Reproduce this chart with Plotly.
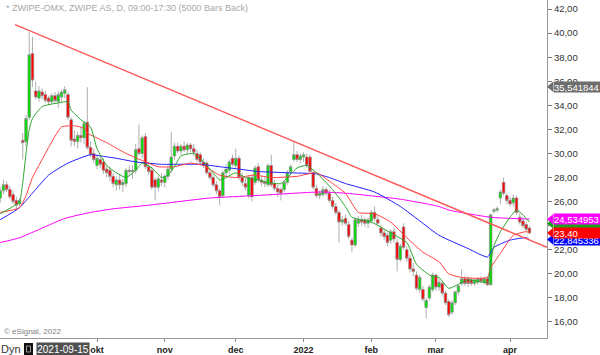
import numpy as np
import pandas as pd
import plotly.graph_objects as go

# ---------------- data ----------------
dates = [d for d in pd.bdate_range("2021-08-20", "2022-04-11")
         if d.strftime("%m-%d") not in ("12-24", "12-31")]

opens = [26.3, 26.9, 27.4, 27.0, 26.6, 26.1, 25.8, 31.1, 31.0, 33.0,
         38.3, 35.2, 34.6, 35.1, 34.9, 34.6, 34.3, 34.8, 34.3, 34.7,
         35.0, 34.9, 32.8, 31.2, 31.0, 31.5, 31.3, 32.6, 30.5, 30.0,
         29.0, 29.5, 29.3, 28.7, 28.6, 28.1, 27.4, 27.8, 27.4, 27.5,
         28.6, 28.5, 28.6, 30.4, 30.0, 31.4, 28.9, 28.6, 27.8, 27.2,
         27.8, 27.6, 28.1, 28.7, 29.8, 30.6, 30.2, 30.6, 30.3, 30.7,
         30.4, 30.0, 29.9, 29.3, 29.2, 28.4, 28.0, 27.4, 26.9, 26.5,
         28.4, 28.6, 29.6, 29.0, 29.6, 28.0, 27.5, 26.5, 28.0, 27.6,
         28.9, 27.8, 27.6, 27.4, 29.0, 27.5, 27.1, 27.0, 27.0, 27.6,
         28.5, 29.5, 29.9, 29.5, 29.7, 29.7, 29.7, 28.4, 27.1, 26.5,
         26.6, 27.0, 26.7, 26.1, 25.6, 25.1, 24.3, 24.6, 24.1, 22.8,
         22.4, 24.2, 24.5, 24.5, 24.2, 24.4, 25.1, 24.5, 23.8, 23.4,
         23.2, 22.8, 23.5, 22.6, 21.2, 23.9, 22.0, 21.3, 20.4, 19.9,
         18.7, 18.7, 17.2, 18.0, 18.7, 19.9, 18.9, 19.2, 18.4, 17.7,
         16.8, 17.6, 18.5, 19.2, 19.6, 19.6, 19.5, 19.2, 19.3, 19.6,
         19.3, 19.6, 19.1, 25.2, 25.3, 26.3, 27.6, 26.5, 26.1, 25.9,
         26.3, 24.7, 24.4, 24.1, 23.8]
highs = [27.2, 27.8, 27.7, 27.3, 26.9, 26.4, 26.3, 31.7, 33.2, 40.1,
         39.7, 36.0, 35.6, 35.4, 35.2, 34.8, 35.0, 35.1, 35.2, 35.3,
         35.6, 35.1, 33.0, 31.9, 31.8, 32.2, 32.7, 35.5, 31.0, 30.4,
         29.9, 29.8, 29.6, 29.0, 28.9, 28.4, 28.1, 28.2, 27.9, 28.8,
         29.0, 29.0, 30.8, 32.4, 31.5, 31.7, 29.3, 28.9, 28.0, 28.1,
         28.4, 28.3, 29.0, 31.8, 30.9, 30.9, 30.8, 31.0, 30.9, 30.9,
         30.8, 30.3, 30.1, 29.6, 29.4, 28.6, 28.3, 27.7, 27.1, 28.6,
         29.1, 29.5, 29.9, 30.4, 29.8, 28.4, 27.9, 28.2, 28.3, 29.0,
         29.2, 28.1, 28.0, 29.2, 29.9, 27.8, 27.4, 27.2, 27.8, 28.6,
         29.1, 31.0, 30.2, 30.0, 30.1, 30.0, 29.9, 28.6, 27.4, 26.9,
         27.3, 27.2, 27.0, 26.4, 25.9, 25.3, 24.8, 24.9, 24.4, 23.0,
         24.7, 24.8, 24.9, 24.7, 24.7, 25.3, 25.6, 24.8, 24.1, 23.7,
         23.4, 23.7, 23.8, 22.9, 22.5, 24.2, 22.3, 21.6, 20.9, 20.2,
         19.9, 19.0, 18.0, 19.1, 20.1, 20.0, 19.6, 19.4, 18.6, 17.9,
         17.8, 18.6, 19.1, 20.4, 19.8, 19.8, 19.7, 19.6, 19.7, 19.8,
         19.8, 19.8, 25.0, 25.5, 25.6, 27.0, 28.0, 26.7, 26.4, 26.6,
         26.5, 25.0, 24.7, 24.3, 24.0]
lows = [25.9, 26.6, 26.8, 26.2, 25.8, 25.3, 25.6, 29.5, 30.6, 32.8,
        35.5, 34.5, 34.3, 34.5, 34.2, 34.0, 34.1, 34.2, 33.8, 34.3,
        34.6, 32.8, 30.6, 30.6, 30.4, 30.9, 30.8, 30.3, 29.7, 29.2,
        28.7, 28.8, 28.3, 28.0, 27.7, 27.2, 26.9, 27.0, 26.8, 27.2,
        28.1, 27.9, 28.3, 29.8, 29.6, 28.7, 28.2, 27.0, 26.1, 26.9,
        27.3, 27.2, 27.8, 28.4, 29.5, 30.0, 29.9, 30.1, 30.0, 30.1,
        29.8, 29.3, 29.0, 28.8, 28.2, 27.8, 27.2, 26.6, 25.7, 26.3,
        28.1, 28.3, 28.9, 28.8, 27.8, 27.3, 26.9, 26.3, 26.0, 27.4,
        27.6, 27.3, 27.2, 27.2, 27.2, 26.9, 26.4, 26.1, 26.8, 27.4,
        28.3, 29.3, 29.3, 29.2, 29.3, 28.8, 28.3, 27.0, 26.3, 26.2,
        26.4, 26.5, 25.9, 25.4, 24.9, 22.6, 24.0, 24.0, 22.9, 21.8,
        22.2, 23.9, 24.0, 23.9, 23.8, 24.2, 24.4, 24.0, 23.1, 22.8,
        22.3, 22.5, 22.6, 20.2, 21.0, 22.0, 21.0, 20.1, 19.8, 18.6,
        18.4, 17.7, 16.3, 17.8, 18.5, 18.6, 18.6, 18.2, 17.4, 16.4,
        16.6, 17.4, 18.2, 19.0, 19.0, 18.9, 19.0, 19.0, 19.1, 19.2,
        19.1, 19.0, 19.0, 25.0, 25.1, 25.8, 26.5, 25.8, 25.6, 25.6,
        24.9, 24.1, 23.8, 23.5, 23.3]
closes = [26.9, 27.4, 27.0, 26.4, 26.0, 25.7, 26.1, 30.9, 32.9, 38.2,
          36.1, 34.7, 35.2, 34.8, 34.4, 34.3, 34.8, 34.4, 34.9, 35.1,
          35.3, 33.0, 31.1, 31.0, 31.5, 31.3, 32.5, 30.5, 29.9, 29.5,
          29.6, 29.1, 28.6, 28.4, 28.1, 27.5, 27.8, 27.4, 27.6, 28.6,
          28.5, 28.6, 30.3, 30.0, 31.3, 28.9, 28.5, 27.2, 27.2, 27.9,
          27.6, 28.1, 28.7, 29.7, 30.6, 30.2, 30.6, 30.3, 30.7, 30.4,
          30.1, 29.5, 29.3, 29.0, 28.4, 28.0, 27.4, 26.9, 26.4, 28.4,
          28.7, 29.3, 29.1, 29.6, 28.0, 27.6, 27.2, 28.0, 26.4, 28.8,
          27.8, 27.6, 27.5, 29.0, 27.4, 27.1, 26.8, 26.7, 27.6, 28.4,
          28.9, 29.9, 29.5, 29.8, 29.9, 29.0, 28.5, 27.2, 26.5, 26.7,
          27.0, 26.7, 26.1, 25.6, 25.1, 24.3, 24.5, 24.2, 23.1, 22.4,
          24.5, 24.5, 24.3, 24.2, 24.5, 25.1, 24.6, 24.2, 23.4, 23.1,
          22.6, 23.5, 22.9, 21.2, 22.3, 22.2, 21.3, 20.4, 20.2, 18.8,
          19.7, 17.9, 17.8, 18.9, 19.9, 18.9, 19.3, 18.4, 17.6, 16.6,
          17.6, 18.5, 19.0, 19.6, 19.2, 19.2, 19.2, 19.5, 19.6, 19.4,
          19.6, 19.1, 24.9, 25.3, 25.4, 26.8, 26.7, 26.1, 25.8, 26.3,
          25.1, 24.3, 24.0, 23.7, 23.4]

# moving-average lines (bar index, value)
green_ma_idx = [0, 4, 6, 7, 8, 9, 10, 13, 18, 21, 22, 25, 28, 30, 33, 36, 39, 42, 44, 47,
                50, 52, 54, 56, 60, 63, 66, 68, 70, 73, 76, 80, 83, 87, 92, 95, 98, 103,
                107, 109, 115, 121, 126, 129, 133, 136, 139, 145, 151, 152, 153, 155, 158,
                160, 162, 164]
green_ma_val = [25.0, 25.6, 26.0, 27.6, 30.0, 32.0, 32.9, 33.9, 34.2, 34.3, 33.6, 32.8, 32.2,
                30.4, 29.0, 28.4, 28.0, 28.6, 29.2, 28.8, 28.0, 28.2, 28.9, 29.8, 30.0, 29.3,
                28.4, 27.8, 28.0, 28.4, 28.0, 27.8, 27.6, 27.5, 28.8, 29.0, 28.4, 27.0, 25.6,
                24.7, 24.3, 23.4, 22.6, 20.8, 19.9, 19.7, 18.8, 19.5, 19.3, 21.0, 22.3, 23.5,
                24.7, 25.3, 24.9, 24.3]
red_ma_idx = [0, 6, 8, 10, 13, 15, 19, 23, 26, 27, 33, 39, 45, 49, 54, 59, 63, 68, 73, 79,
              84, 92, 98, 103, 107, 111, 116, 121, 126, 131, 136, 139, 143, 151, 152, 155,
              159, 163, 164]
red_ma_val = [25.1, 25.5, 26.5, 28.0, 29.5, 30.5, 32.2, 32.3, 32.1, 31.7, 30.9, 30.0, 29.3,
              28.9, 28.9, 29.2, 29.0, 28.2, 28.0, 28.2, 28.0, 28.1, 28.4, 27.5, 26.7, 25.1,
              25.0, 24.3, 23.0, 21.8, 21.0, 20.0, 19.7, 19.7, 20.5, 21.7, 23.2, 23.5, 23.4]
blue_ma_idx = [0, 6, 10, 15, 21, 28, 31, 36, 42, 50, 53, 62, 68, 74, 80, 89, 98, 102, 107,
               116, 124, 130, 136, 145, 151, 153, 158, 163, 164]
blue_ma_val = [24.5, 25.5, 26.7, 28.2, 29.2, 29.9, 29.8, 29.6, 29.3, 29.1, 29.1, 29.1, 28.9,
               28.7, 28.5, 28.4, 28.3, 28.0, 27.5, 26.8, 25.6, 24.4, 23.2, 22.1, 21.4, 22.2,
               22.8, 23.0, 22.85]
mag_ma_idx = [0, 6, 20, 28, 35, 46, 65, 79, 99, 107, 124, 136, 139, 152, 164]
mag_ma_val = [22.6, 23.0, 24.6, 25.1, 25.4, 25.7, 26.3, 26.5, 26.8, 26.7, 26.2, 25.6, 25.3,
              24.7, 24.55]

trend_idx = [4.6, 169.45]
trend_val = [40.7, 22.2]

month_labels = ["okt", "nov", "dec", "2022", "feb", "mar", "apr"]
y_ticks = list(range(16, 43, 2))

# price tags on the right axis: (value, text, background)
tag_gray = (35.541844, "35,541844", "#6e6e6e")
tags = [(24.18, "", "#1f9f1f"),
        (22.845336, "22,845336", "#0000ff"),
        (24.534953, "24,534953", "#ff00ff"),
        (23.40, "23,40", "#ff0000")]

# ---------------- figure ----------------
idx = list(range(len(dates)))
month_idx = [i for i in range(1, len(dates))
             if dates[i].month != dates[i - 1].month and dates[i] >= pd.Timestamp("2021-10-01")]

FONT = "Arial, Liberation Sans, sans-serif"
W, H = 600, 355
ML, MR, MT, MB = 0, 53, 0, 17
PW, PH = W - ML - MR, H - MT - MB

fig = go.Figure()
fig.add_trace(go.Candlestick(
    x=idx, open=opens, high=highs, low=lows, close=closes,
    increasing=dict(fillcolor="#00e000", line=dict(color="#8c8c8c", width=0.7)),
    decreasing=dict(fillcolor="#ff0000", line=dict(color="#8c8c8c", width=0.7)),
    whiskerwidth=0, hoverinfo="skip", showlegend=False))

for xs, ys, col in [(mag_ma_idx, mag_ma_val, "#ff00ff"),
                    (blue_ma_idx, blue_ma_val, "#2020ff"),
                    (red_ma_idx, red_ma_val, "#ff4040"),
                    (green_ma_idx, green_ma_val, "#2aa52a")]:
    fig.add_trace(go.Scatter(x=xs, y=ys, mode="lines",
                             line=dict(color=col, width=1, shape="spline", smoothing=0.5),
                             hoverinfo="skip", showlegend=False))

fig.add_trace(go.Scatter(x=trend_idx, y=trend_val, mode="lines",
                         line=dict(color="#ff5a5a", width=1.4), hoverinfo="skip", showlegend=False))


def px2paper_x(px):
    return (px - ML) / PW


def px2paper_y(py):
    return 1 - (py - MT) / PH


annotations = []
shapes = []
yspan = 42.75 - 14.67
half = 5.0 * yspan / PH
tipw = 6.0 / PW
for val, txt, bg in [tag_gray] + tags:
    shapes.append(dict(type="path", xref="paper", yref="y",
                       path=f"M 1,{val} L {1+tipw},{val+half} L {1+tipw},{val-half} Z",
                       fillcolor=bg, line=dict(width=0), layer="above"))
    annotations.append(dict(xref="paper", yref="y", x=1 + tipw, y=val, xanchor="left", yanchor="middle",
                            text=txt, showarrow=False, bgcolor=bg, width=47, height=10, borderpad=0,
                            align="left", font=dict(family=FONT, size=9.5, color="white")))

annotations.append(dict(xref="paper", yref="paper", x=px2paper_x(4), y=px2paper_y(8.5), xanchor="left",
                        yanchor="middle", showarrow=False,
                        text="* ZWIPE-OMX, ZWIPE AS, D, 09:00-17:30 (5000 Bars Back)",
                        font=dict(family=FONT, size=9, color="#a8a8a8")))
annotations.append(dict(xref="paper", yref="paper", x=px2paper_x(2), y=px2paper_y(331), xanchor="left",
                        yanchor="middle", showarrow=False, text="© eSignal, 2022",
                        font=dict(family=FONT, size=8, color="#808080")))
annotations.append(dict(xref="paper", yref="paper", x=px2paper_x(-1), y=px2paper_y(348.5), xanchor="left",
                        yanchor="middle", showarrow=False, text="Dyn",
                        font=dict(family=FONT, size=11, color="#333333")))
annotations.append(dict(xref="paper", yref="paper", x=px2paper_x(36), y=px2paper_y(348.5), xanchor="left",
                        yanchor="middle", showarrow=False, text=dates[18].strftime("%Y-%m-%d"),
                        bgcolor="#505050", width=52, height=12, borderpad=0, align="center",
                        font=dict(family=FONT, size=10, color="white")))
shapes.append(dict(type="rect", xref="paper", yref="paper", x0=px2paper_x(24), x1=px2paper_x(33),
                   y0=px2paper_y(355), y1=px2paper_y(343), fillcolor="#111111", line=dict(width=0)))
shapes.append(dict(type="rect", xref="paper", yref="paper", x0=px2paper_x(26.5), x1=px2paper_x(30.5),
                   y0=px2paper_y(352), y1=px2paper_y(346), fillcolor="rgba(0,0,0,0)",
                   line=dict(width=1, color="#9a9a9a")))

fig.update_layout(
    width=W, height=H, margin=dict(l=ML, r=MR, t=MT, b=MB),
    paper_bgcolor="white", plot_bgcolor="white",
    showlegend=False, boxgap=0.2, boxgroupgap=0,
    shapes=shapes, annotations=annotations,
    xaxis=dict(range=[-0.06, 169.45], tickvals=month_idx,
               ticktext=[f"<b>{t}</b>" for t in month_labels],
               ticks="outside", ticklen=3, tickcolor="#888888",
               showline=True, linecolor="#999999", linewidth=1,
               showgrid=False, zeroline=False, rangeslider=dict(visible=False),
               tickfont=dict(family=FONT, size=9, color="#222222"), fixedrange=True),
    yaxis=dict(range=[14.67, 42.75], side="right", tickvals=y_ticks,
               ticktext=[f"{v},00" for v in y_ticks],
               ticks="outside", ticklen=4, tickcolor="#777777",
               showline=True, linecolor="#999999", linewidth=1,
               showgrid=False, zeroline=False,
               tickfont=dict(family=FONT, size=9.5, color="#333333"), fixedrange=True),
)

fig.write_html("out.html")
